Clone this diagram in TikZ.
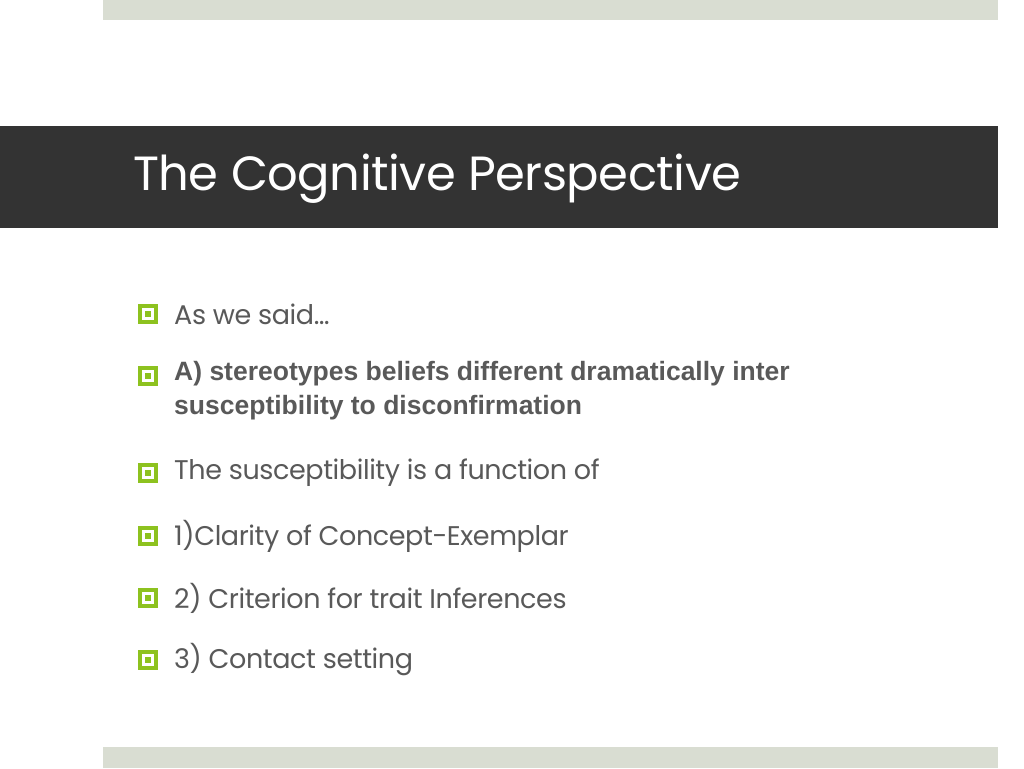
\documentclass[tikz,border=0pt]{standalone}
\usepackage{fontspec}
\setmainfont{Poppins}
\newfontfamily\arialb{Liberation Sans}
\definecolor{topbar}{HTML}{D9DDD2}
\definecolor{band}{HTML}{333333}
\definecolor{bgreen}{HTML}{8DC21F}
\definecolor{txt}{HTML}{595959}
\tikzset{
  bul/.style={fill=bgreen, minimum size=20pt, inner sep=0pt, path picture={\fill[white] ([xshift=-6pt,yshift=-6pt]path picture bounding box.center) rectangle ++(12pt,12pt); \fill[bgreen] ([xshift=-3pt,yshift=-3pt]path picture bounding box.center) rectangle ++(6pt,6pt);}},
  itm/.style={anchor=west, text=txt, inner sep=0pt, font=\fontsize{27}{34}\selectfont\addfontfeatures{LetterSpace=-1.5}},
}
\begin{document}
\begin{tikzpicture}[x=1pt,y=-1pt]
\useasboundingbox (0,0) rectangle (1024,768);
\fill[white] (0,0) rectangle (1024,768);
\fill[topbar] (103,0) rectangle (998,20);
\fill[topbar] (103,747) rectangle (998,768);
\fill[band] (0,126) rectangle (998,228);
\node[anchor=west, text=white, inner sep=0pt, font=\fontsize{48}{56}\selectfont\addfontfeatures{LetterSpace=-1}] (title) at (133,179) {The Cognitive Perspective};
\node[bul] (b1) at (148,314) {};
\node[itm] (t1) at (174,314) {As we said…};
\node[bul] (b2) at (148,376) {};
\node[itm, align=left, font=\arialb\bfseries\fontsize{26.5}{34}\selectfont, anchor=north west] (t2) at (174,361) {A) stereotypes beliefs different dramatically inter\\susceptibility to disconfirmation};
\node[bul] (b3) at (148,473) {};
\node[itm] (t3) at (174,473) {The susceptibility is a function of};
\node[bul] (b4) at (148,536) {};
\node[itm] (t4) at (174,536) {1)Clarity of Concept-Exemplar};
\node[bul] (b5) at (148,598) {};
\node[itm] (t5) at (174,598) {2) Criterion for trait Inferences};
\node[bul] (b6) at (148,660) {};
\node[itm] (t6) at (174,660) {3) Contact setting};
\end{tikzpicture}
\end{document}
